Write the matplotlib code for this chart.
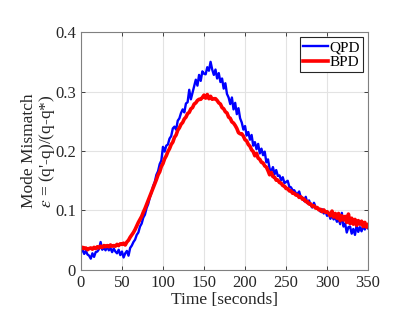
import numpy as np
import matplotlib
matplotlib.use('Agg')
import matplotlib.pyplot as plt

plt.rcParams['font.family'] = ['Liberation Serif', 'DejaVu Serif']
plt.rcParams['mathtext.fontset'] = 'stix'

time_s = np.arange(0, 352, 2)

qpd = [0.030, 0.034, 0.027, 0.032, 0.026, 0.024,
       0.019, 0.028, 0.022, 0.030, 0.031,
       0.035, 0.047, 0.034, 0.038, 0.033,
       0.040, 0.033, 0.037, 0.030, 0.036,
       0.031, 0.028, 0.034, 0.025, 0.031,
       0.021, 0.028, 0.032, 0.024, 0.037,
       0.041, 0.047, 0.051, 0.059, 0.063,
       0.073, 0.078, 0.088, 0.093, 0.104,
       0.111, 0.122, 0.130, 0.141, 0.148,
       0.160, 0.166, 0.178, 0.184, 0.207,
       0.199, 0.209, 0.211, 0.221, 0.225,
       0.238, 0.241, 0.236, 0.251, 0.255,
       0.264, 0.270, 0.265, 0.280, 0.282,
       0.303, 0.287, 0.298, 0.309, 0.320,
       0.310, 0.328, 0.318, 0.334, 0.330,
       0.329, 0.341, 0.335, 0.350, 0.337,
       0.328, 0.337, 0.322, 0.331, 0.316,
       0.322, 0.305, 0.314, 0.296, 0.290,
       0.279, 0.290, 0.270, 0.281, 0.262,
       0.272, 0.255, 0.248, 0.236, 0.242,
       0.226, 0.232, 0.219, 0.227, 0.209,
       0.215, 0.203, 0.212, 0.196, 0.204,
       0.193, 0.199, 0.181, 0.186, 0.170,
       0.166, 0.173, 0.161, 0.168, 0.158,
       0.159, 0.151, 0.156, 0.146, 0.148,
       0.150, 0.140, 0.139, 0.134, 0.134,
       0.129, 0.128, 0.132, 0.122, 0.122,
       0.116, 0.123, 0.112, 0.117, 0.109,
       0.105, 0.113, 0.106, 0.104, 0.103,
       0.098, 0.102, 0.095, 0.099, 0.091,
       0.096, 0.086, 0.092, 0.085, 0.089,
       0.081, 0.086, 0.077, 0.096, 0.073,
       0.078, 0.063, 0.072, 0.073, 0.061,
       0.069, 0.059, 0.075, 0.064, 0.072,
       0.065, 0.074, 0.068, 0.077, 0.070]

bpd = [0.035, 0.038, 0.036, 0.037, 0.034, 0.036,
       0.037, 0.035, 0.038, 0.036, 0.039,
       0.037, 0.040, 0.038, 0.041, 0.039,
       0.041, 0.039, 0.042, 0.040, 0.041,
       0.040, 0.043, 0.041, 0.044, 0.043,
       0.045, 0.042, 0.047, 0.050, 0.055,
       0.059, 0.063, 0.068, 0.074, 0.080,
       0.085, 0.090, 0.097, 0.103, 0.110,
       0.117, 0.124, 0.131, 0.138, 0.145,
       0.152, 0.160, 0.165, 0.174, 0.179,
       0.187, 0.192, 0.199, 0.204, 0.211,
       0.215, 0.223, 0.227, 0.235, 0.239,
       0.245, 0.248, 0.254, 0.257, 0.263,
       0.265, 0.271, 0.273, 0.279, 0.281,
       0.285, 0.287, 0.287, 0.290, 0.294,
       0.289, 0.295, 0.288, 0.292, 0.287,
       0.288, 0.288, 0.285, 0.281, 0.279,
       0.273, 0.271, 0.266, 0.264, 0.257,
       0.255, 0.249, 0.247, 0.243, 0.238,
       0.231, 0.229, 0.229, 0.225, 0.219,
       0.217, 0.211, 0.208, 0.202, 0.199,
       0.192, 0.196, 0.188, 0.186, 0.181,
       0.180, 0.175, 0.173, 0.167, 0.160,
       0.164, 0.157, 0.156, 0.151, 0.151,
       0.147, 0.146, 0.142, 0.141, 0.137,
       0.137, 0.133, 0.133, 0.129, 0.129,
       0.126, 0.126, 0.122, 0.123, 0.119,
       0.119, 0.115, 0.115, 0.111, 0.111,
       0.107, 0.108, 0.104, 0.105, 0.101,
       0.102, 0.098, 0.101, 0.097, 0.098,
       0.095, 0.091, 0.099, 0.089, 0.095,
       0.087, 0.095, 0.083, 0.091, 0.084,
       0.090, 0.080, 0.094, 0.078, 0.087,
       0.077, 0.085, 0.075, 0.083, 0.077,
       0.082, 0.073, 0.080, 0.072, 0.076]

xticks = [0, 50, 100, 150, 200, 250, 300, 350]
yticks = [0, 0.1, 0.2, 0.3, 0.4]

dark = '#262626'

fig = plt.figure(figsize=(4.15, 3.21), dpi=100)
ax = fig.add_axes([0.195, 0.159, 0.692, 0.741])

ax.plot(time_s, qpd, color='#0000FF', lw=1.7, label='QPD')
ax.plot(time_s, bpd, color='#FF0000', lw=2.6, label='BPD')

ax.set_xlim(0, 350)
ax.set_ylim(0, 0.4)
ax.set_xticks(xticks)
ax.set_yticks(yticks)
ax.set_xticklabels([str(t) for t in xticks])
ax.set_yticklabels(['0', '0.1', '0.2', '0.3', '0.4'])
ax.grid(True, color='#e3e3e3', lw=0.8)
ax.set_axisbelow(True)
ax.tick_params(direction='in', top=True, right=True, labelsize=12,
               colors=dark, length=3, width=0.6)
for s in ax.spines.values():
    s.set_color('#808080')
    s.set_linewidth(0.8)

ax.set_xlabel('Time [seconds]', fontsize=12.5, color=dark, labelpad=1)
ax.set_ylabel("Mode Mismatch\n$\\epsilon$ = (q'-q)/(q-q*)", fontsize=12.5,
              color=dark, labelpad=-1, linespacing=1.0)

leg = ax.legend(loc='upper right', fontsize=11, handlelength=1.6,
                handletextpad=0.1, borderpad=0.2, labelspacing=0.1,
                fancybox=False, framealpha=1, borderaxespad=0.35)
leg.get_frame().set_edgecolor(dark)
leg.get_frame().set_linewidth(0.8)

fig.savefig('out.png', dpi=100)
